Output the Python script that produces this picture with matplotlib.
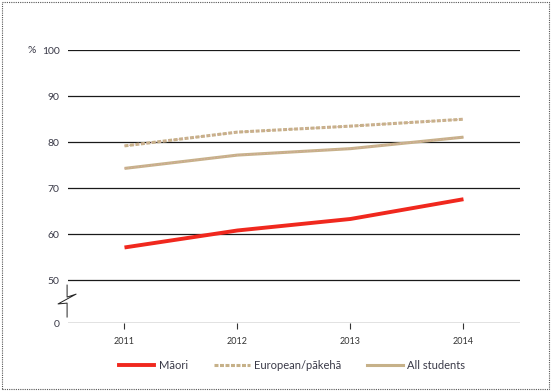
import matplotlib.pyplot as plt
import numpy as np
from matplotlib.patches import Rectangle

years = [2011, 2012, 2013, 2014]
maori = [57.1, 60.8, 63.3, 67.6]
european = [79.2, 82.2, 83.5, 85.0]
all_students = [74.3, 77.2, 78.6, 81.1]

ytick_labels = ['0', '50', '60', '70', '80', '90', '100']
ytick_values = [0, 50, 60, 70, 80, 90, 100]

# the axis is broken between 0 and 50: 0 sits just below 50
zero_pos = 40.6


def to_axis(v):
    return zero_pos if v == 0 else v


plt.rcParams['font.family'] = ['Lato', 'DejaVu Sans']

fig = plt.figure(figsize=(5.51, 3.91), dpi=100)
ax = fig.add_axes([0.1234, 0.1731, 0.8203, 0.6983])

for v in ytick_values:
    ax.axhline(to_axis(v), color='#1a1a1a', lw=0.9, zorder=1)

tan = '#c6b189'
pink = '#dba9a4'
ax.plot(years, maori, color='#f0281e', lw=2.8, solid_capstyle='butt', zorder=3)
ax.plot(years, all_students, color=tan, lw=2.2, solid_capstyle='butt', zorder=3)
ax.plot(years, all_students, color=pink, lw=0.8, ls=(0, (1, 2)), zorder=4)
ax.plot(years, european, color=tan, lw=2.2, ls=(0, (1.3, 0.5)), zorder=3)
ax.plot(years, european, color=pink, lw=0.8, ls=(0, (1, 3)), zorder=4)

ax.set_xlim(2010.5, 2014.5)
ax.set_ylim(zero_pos, 100)
ax.set_xticks(years)
ax.set_xticklabels([str(y) for y in years], fontsize=6.5, color='#333333')
ax.set_yticks([to_axis(v) for v in ytick_values])
ax.set_yticklabels(ytick_labels, fontsize=7.5, color='#3a3a48')
ax.tick_params(axis='y', length=0, pad=6)
ax.tick_params(axis='x', length=4, width=0.8, color='#333333', pad=6)
for s in ax.spines.values():
    s.set_visible(False)

ax.text(-0.072, 1.0, '%', transform=ax.transAxes, ha='right', va='center',
        fontsize=7.5, color='#3a3a48')

# axis break zig-zag
zx = [-0.002, -0.002, 0.018, -0.022, -0.002, -0.002]
zy = [0.140, 0.096, 0.107, 0.071, 0.074, 0.023]
ax.plot(zx, zy, transform=ax.transAxes, color='#222222', lw=0.7, clip_on=False)

# legend
h1, = ax.plot([], [], color='#f0281e', lw=2.8)
h2, = ax.plot([], [], color=tan, lw=2.2, ls=(0, (1.3, 0.5)))
h3, = ax.plot([], [], color=tan, lw=2.2)
fig.legend([h1, h2, h3], ['Māori', 'European/pākehā', 'All students'],
           loc='center', bbox_to_anchor=(0.53, 0.065), ncol=3, frameon=False,
           fontsize=8, handlelength=3.2, handletextpad=0.4, columnspacing=2.35,
           labelcolor='#3a3a48')

fig.patches.append(Rectangle((0.004, 0.004), 0.992, 0.992, transform=fig.transFigure,
                             fill=False, ec='#555555', lw=0.8, ls=(0, (1, 1))))

fig.savefig('out.png', dpi=100)
